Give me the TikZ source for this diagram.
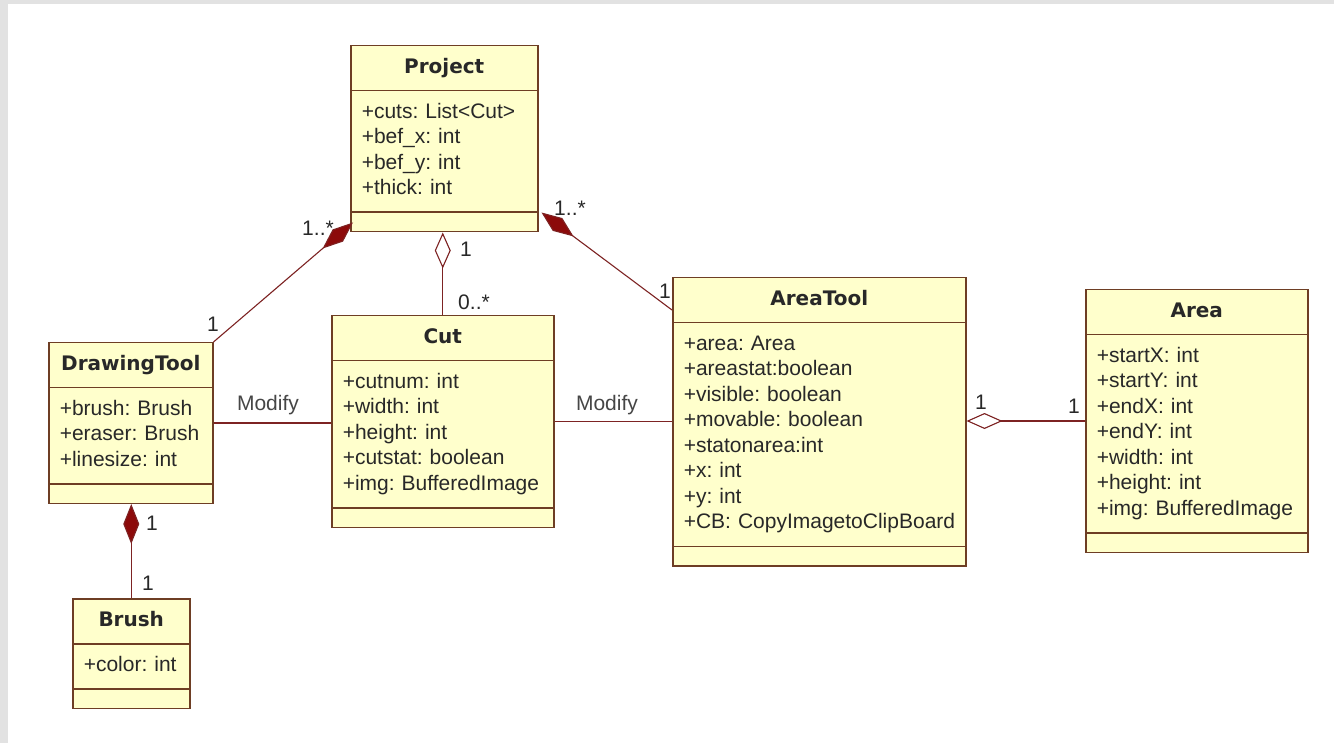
\documentclass[tikz,border=0pt]{standalone}
\usepackage{fontspec}
\setmainfont{Liberation Sans}
\newfontfamily\headfont{DejaVu Sans}
\usepackage{xcolor}
\usepackage{tikz}
\usetikzlibrary{calc, arrows.meta, shapes.multipart}

\definecolor{classfill}{RGB}{255,255,204}
\definecolor{classline}{RGB}{110,62,36}
\definecolor{assocline}{RGB}{125,35,35}
\definecolor{diamondred}{RGB}{140,10,10}
\definecolor{textgrey}{RGB}{40,40,40}
\definecolor{labelgrey}{RGB}{70,70,70}
\definecolor{framegrey}{RGB}{226,226,226}

\newcommand{\umlfont}{\fontsize{21}{25.5}\selectfont\frenchspacing}
\newcommand{\umltitle}[1]{\hbox to\hsize{\hss\strut\headfont\bfseries\fontsize{20}{25.5}\selectfont#1\hss}}
\newcommand{\umlattrs}[1]{\begin{tabular}{@{}l@{}}#1\end{tabular}}
\newcommand{\umlempty}{\hbox{}}

\begin{document}
\begin{tikzpicture}[x=1pt, y=-1pt,
		umlclass/.style={rectangle split, rectangle split parts=3,
				draw=classline, fill=classfill, line width=1.5pt,
				anchor=north west, inner xsep=11pt, inner ysep=9pt,
				font=\umlfont, text=textgrey},
		assoc/.style={draw=assocline, line width=1.1pt},
		comp/.style={assoc, -{Diamond[length=40pt, width=16pt, fill=diamondred]}},
		aggr/.style={assoc, -{Diamond[open, length=36pt, width=16pt]}},
		mult/.style={font=\umlfont, text=textgrey, inner sep=0pt},
		verb/.style={mult, text=labelgrey}]
	\useasboundingbox (0,0) rectangle (1334,743);
	\fill[framegrey] (0,0) rectangle (1334,743);
	\fill[white] (8,4) rectangle (1334,743);

	\node[umlclass, text width=165pt] (project) at (350,45)
		{\umltitle{Project}
			\nodepart{two}\umlattrs{+cuts: List<Cut>\\+bef\_x: int\\+bef\_y: int\\+thick: int}
			\nodepart{three}\umlempty};
	\node[umlclass, text width=142pt] (drawing) at (48,342)
		{\umltitle{DrawingTool}
			\nodepart{two}\umlattrs{+brush: Brush\\+eraser: Brush\\+linesize: int}
			\nodepart{three}\umlempty};
	\node[umlclass, text width=95pt] (brush) at (72,598)
		{\umltitle{Brush}
			\nodepart{two}\umlattrs{+color: int}
			\nodepart{three}\umlempty};
	\node[umlclass, text width=200pt] (cut) at (331,315)
		{\umltitle{Cut}
			\nodepart{two}\umlattrs{+cutnum: int\\+width: int\\+height: int\\+cutstat: boolean\\+img: BufferedImage}
			\nodepart{three}\umlempty};
	\node[umlclass, text width=271pt] (areatool) at (672,277)
		{\umltitle{AreaTool}
			\nodepart{two}\umlattrs{+area: Area\\+areastat:boolean\\+visible: boolean\\+movable: boolean\\+statonarea:int\\+x: int\\+y: int\\+CB: CopyImagetoClipBoard}
			\nodepart{three}\umlempty};
	\node[umlclass, text width=200pt] (area) at (1085,289)
		{\umltitle{Area}
			\nodepart{two}\umlattrs{+startX: int\\+startY: int\\+endX: int\\+endY: int\\+width: int\\+height: int\\+img: BufferedImage}
			\nodepart{three}\umlempty};

	\draw[comp] (drawing.north east) -- ($(project.south west)+(3,-10)$);
	\draw[comp] ($(areatool.north west)+(0,33)$) -- ($(project.south east)+(3,-20)$);
	\draw[aggr] (cut.north) -- (cut.north |- project.south);
	\draw[comp] (brush.north) -- (brush.north |- drawing.south);
	\draw[assoc] (drawing.east) -- (drawing.east -| cut.west);
	\draw[assoc] (cut.east) -- (cut.east -| areatool.west);
	\draw[aggr] (area.west) -- (area.west -| areatool.east);

	\node[mult] (pdmany) at (318,228) {1..*};
	\node[mult] (pdone) at (213,324) {1};
	\node[mult] (pcone) at (466,249) {1};
	\node[mult] (pcmany) at (474,302) {0..*};
	\node[mult] (pamany) at (570,208) {1..*};
	\node[mult] (paone) at (665,291) {1};
	\node[mult] (aaleft) at (981,402) {1};
	\node[mult] (aaright) at (1074,406) {1};
	\node[mult] (dbtop) at (152,523) {1};
	\node[mult] (dbbottom) at (148,583) {1};
	\node[verb] (modleft) at (268,405) {Modify};
	\node[verb] (modright) at (607,405) {Modify};
\end{tikzpicture}
\end{document}
